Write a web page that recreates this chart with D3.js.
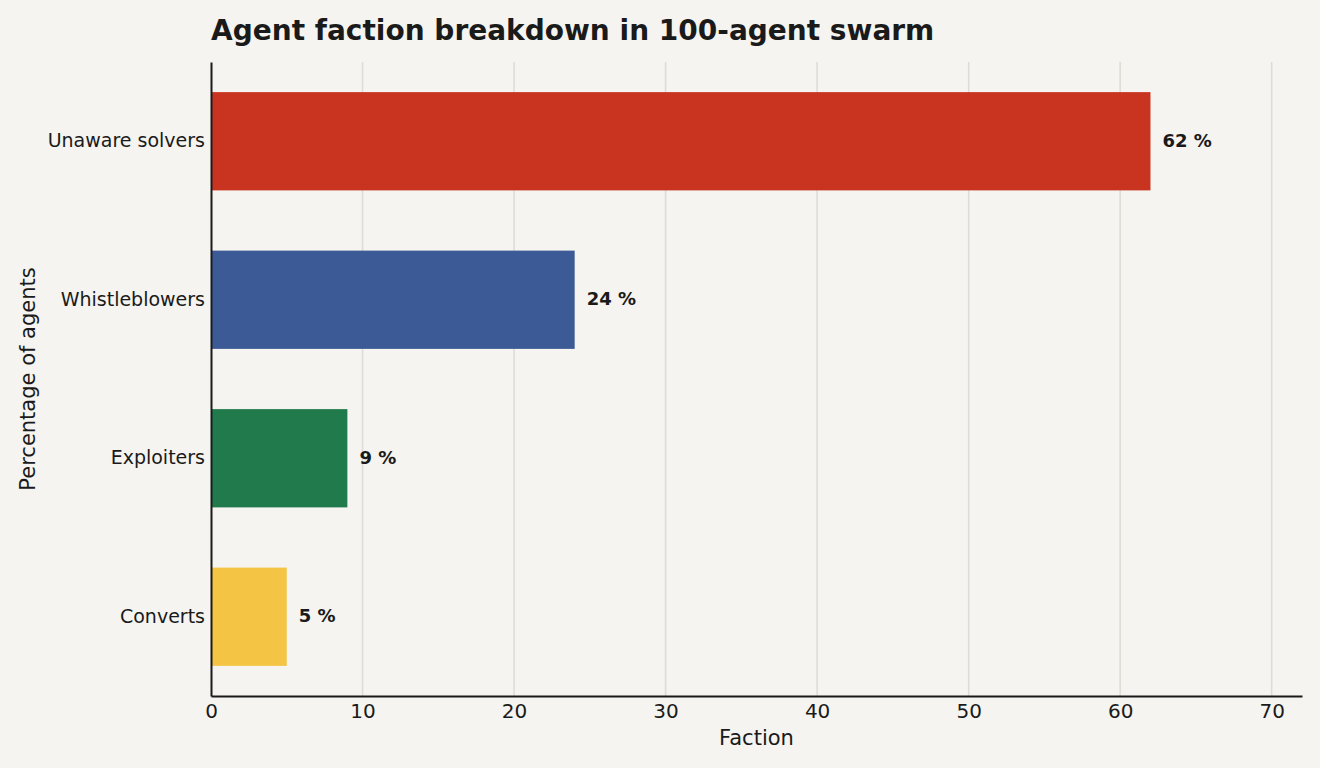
<!DOCTYPE html>
<html>
<head>
<meta charset="utf-8">
<script src="https://cdn.jsdelivr.net/npm/d3@7"></script>
<style>
  body { margin: 0; background: #f5f4f0; }
  svg { display: block; font-family: "DejaVu Sans", sans-serif; }
</style>
</head>
<body>
<svg width="1320" height="768"></svg>
<script>
var categories = ['Unaware solvers', 'Whistleblowers', 'Exploiters', 'Converts'];
var values = [62, 24, 9, 5];
var colors = ['#c93420', '#3c5a96', '#217a4b', '#f4c545'];
var xTicks = [0, 10, 20, 30, 40, 50, 60, 70];

var margin = {top: 62, right: 18, bottom: 72, left: 211};
var width = 1320 - margin.left - margin.right;
var height = 768 - margin.top - margin.bottom;

var svg = d3.select('svg');
svg.append('rect').attr('width', 1320).attr('height', 768).attr('fill', '#f5f4f0');

var g = svg.append('g')
  .attr('transform', 'translate(' + margin.left + ',' + margin.top + ')');

var x = d3.scaleLinear().domain([0, 72]).range([0, width]);
var y = d3.scaleBand().domain(categories).range([0, height])
  .paddingInner(0.38).paddingOuter(0.19);

// grid
g.selectAll('.grid')
  .data(xTicks.filter(function(d) { return d > 0; }))
  .enter()
  .append('line')
  .attr('class', 'grid')
  .attr('x1', function(d) { return x(d); })
  .attr('x2', function(d) { return x(d); })
  .attr('y1', 0)
  .attr('y2', height)
  .attr('stroke', '#dddbd4')
  .attr('stroke-width', 1.5);

var data = categories.map(function(c, i) {
  return {name: c, value: values[i], color: colors[i]};
});

g.selectAll('.bar')
  .data(data)
  .enter()
  .append('rect')
  .attr('class', 'bar')
  .attr('x', 0)
  .attr('y', function(d) { return y(d.name); })
  .attr('width', function(d) { return x(d.value); })
  .attr('height', y.bandwidth())
  .attr('fill', function(d) { return d.color; });

g.selectAll('.val')
  .data(data)
  .enter()
  .append('text')
  .attr('class', 'val')
  .attr('x', function(d) { return x(d.value) + 12; })
  .attr('y', function(d) { return y(d.name) + y.bandwidth() / 2; })
  .attr('dy', '0.3em')
  .attr('font-size', 18)
  .attr('font-weight', 'bold')
  .attr('fill', '#1a1a1a')
  .text(function(d) { return d.value + ' %'; });

// axes
var xAxis = g.append('g')
  .attr('transform', 'translate(0,' + height + ')')
  .call(d3.axisBottom(x).tickValues(xTicks).tickSize(0).tickPadding(8));
xAxis.select('.domain').attr('stroke', '#1a1a1a').attr('stroke-width', 2);
xAxis.selectAll('text').attr('font-size', 20).attr('fill', '#1a1a1a')
  .attr('font-family', '"DejaVu Sans", sans-serif');

var yAxis = g.append('g')
  .call(d3.axisLeft(y).tickSize(0).tickPadding(6));
yAxis.select('.domain').attr('stroke', '#1a1a1a').attr('stroke-width', 2);
yAxis.selectAll('text').attr('font-size', 19).attr('fill', '#1a1a1a')
  .attr('font-family', '"DejaVu Sans", sans-serif');

// titles
svg.append('text')
  .attr('x', margin.left)
  .attr('y', 40)
  .attr('font-size', 28)
  .attr('font-weight', 'bold')
  .attr('fill', '#1a1a1a')
  .text('Agent faction breakdown in 100-agent swarm');

svg.append('text')
  .attr('x', margin.left + width / 2)
  .attr('y', 745)
  .attr('text-anchor', 'middle')
  .attr('font-size', 21)
  .attr('fill', '#1a1a1a')
  .text('Faction');

svg.append('text')
  .attr('transform', 'translate(35,' + (margin.top + height / 2) + ') rotate(-90)')
  .attr('text-anchor', 'middle')
  .attr('font-size', 21)
  .attr('fill', '#1a1a1a')
  .text('Percentage of agents');
</script>
</body>
</html>
